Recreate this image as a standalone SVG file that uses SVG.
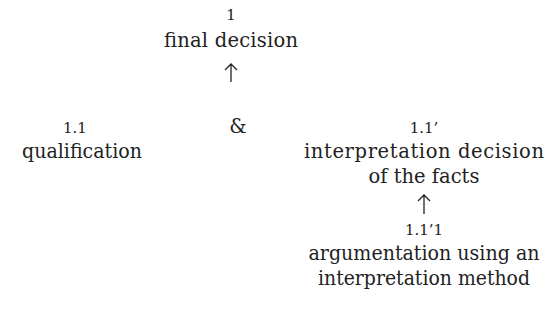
<svg xmlns="http://www.w3.org/2000/svg" width="559" height="320" viewBox="0 0 559 320">
<style>
text{font-family:"DejaVu Serif","Liberation Serif",serif;font-size:19.5px;fill:#222;text-anchor:middle}
.num{font-size:15px}
.arr{fill:none;stroke:#222;stroke-width:1.3}
</style>
<rect width="559" height="320" fill="#fff"/>
<g id="n1"><text x="231" y="20" class="num">1</text><text x="231" y="47" textLength="134" lengthAdjust="spacing">final decision</text></g>
<g id="n11"><text x="75" y="133" class="num">1.1</text><text x="82" y="158" textLength="120" lengthAdjust="spacingAndGlyphs">qualification</text></g>
<g id="amp"><text x="238" y="133">&amp;</text></g>
<g id="n11p"><text x="424" y="133" class="num">1.1’</text><text x="424" y="158" textLength="240" lengthAdjust="spacing">interpretation decision</text><text x="424" y="183">of the facts</text></g>
<g id="n11p1"><text x="424" y="235" class="num">1.1’1</text><text x="424" y="260" textLength="231" lengthAdjust="spacingAndGlyphs">argumentation using an</text><text x="424" y="285" textLength="212" lengthAdjust="spacingAndGlyphs">interpretation method</text></g>
<g id="connectors">
<path class="arr" d="M231 82V64M225 70L231 64L237 70"/>
<path class="arr" d="M424 214V195M418 201L424 195L430 201"/>
</g>
</svg>
